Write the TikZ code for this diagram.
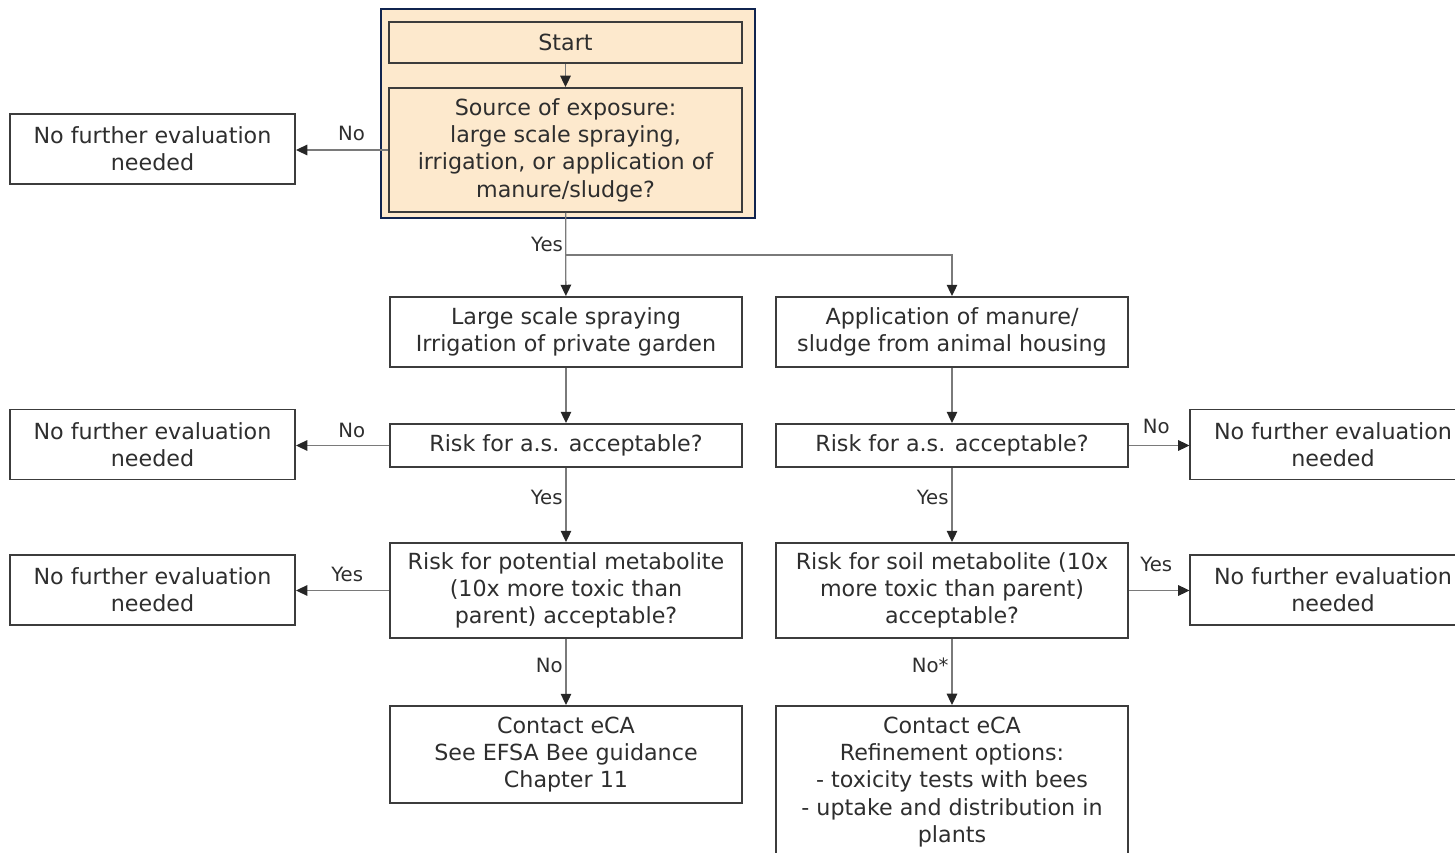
\documentclass[tikz,border=0pt]{standalone}
\usepackage{fontspec}
\setmainfont{DejaVu Sans}
\usetikzlibrary{positioning,arrows.meta}

\definecolor{peach}{HTML}{FDE9CD}
\definecolor{navy}{HTML}{10244F}
\definecolor{boxline}{HTML}{3C3C3C}
\definecolor{flowline}{HTML}{7A7A7A}
\definecolor{inktext}{HTML}{2E2E2E}

\tikzset{
	box/.style={draw=boxline, line width=1.4pt, align=center, inner sep=0pt,
		text=inktext, font=\fontsize{15.8}{19.4}\selectfont,
		minimum width=8.8cm},
	endbox/.style={box, minimum width=7.125cm, minimum height=1.75cm},
	startbox/.style={box, fill=peach},
	flow/.style={draw=flowline, line width=0.9pt,
		-{Triangle[length=8pt, width=7.5pt, color=black!85, fill=black!85]}},
	lbl/.style={text=inktext, font=\fontsize{14}{16}\selectfont, inner sep=2pt}
}

\begin{document}
\begin{tikzpicture}[x=0.025cm, y=-0.025cm]
	\useasboundingbox (0,0) rectangle (1455,853);
	\clip (0,0) rectangle (1455,853);

	% start block
	\draw[draw=navy, fill=peach, line width=1.5pt] (381,9) rectangle (755,218);
	\node[startbox, minimum height=1.025cm] (start) at (565.5,42.5) {Start};
	\node[startbox, minimum height=3.1cm] (source) at (565.5,150)
		{Source of exposure:\\ large scale spraying,\\ irrigation, or application of\\ manure/sludge?};
	\node[endbox] (nfeA) at (152.5,149) {No further evaluation\\ needed};

	% two routes
	\node[box, minimum height=1.75cm] (spray) at (566,332)
		{Large scale spraying\\ Irrigation of private garden};
	\node[box, minimum height=1.75cm] (manure) at (952,332)
		{Application of manure/\\ sludge from animal housing};
	\coordinate (split) at (566,255);

	% active substance
	\node[box, minimum height=1.075cm] (riskL) at (566,445.5) {Risk for a.s. acceptable?};
	\node[box, minimum height=1.075cm] (riskR) at (952,445.5) {Risk for a.s. acceptable?};
	\node[endbox] (nfeB) at (152.5,444.5) {No further evaluation\\ needed};
	\node[endbox] (nfeD) at (1333,444.5) {No further evaluation\\ needed};

	% metabolites
	\node[box, minimum height=2.375cm] (metL) at (566,590.5)
		{Risk for potential metabolite\\ (10x more toxic than\\ parent) acceptable?};
	\node[box, minimum height=2.375cm] (metR) at (952,590.5)
		{Risk for soil metabolite (10x\\ more toxic than parent)\\ acceptable?};
	\node[endbox] (nfeC) at (152.5,590) {No further evaluation\\ needed};
	\node[endbox] (nfeE) at (1333,590) {No further evaluation\\ needed};

	% contact eCA
	\node[box, minimum height=2.425cm] (contactL) at (566,754.5)
		{Contact eCA\\ See EFSA Bee guidance\\ Chapter 11};
	\node[box, minimum height=3.8cm] (contactR) at (952,782)
		{Contact eCA\\ Refinement options:\\ - toxicity tests with bees\\ - uptake and distribution in\\ plants};

	% connectors
	\draw[flow] (start) -- (source);
	\draw[flow] (source.west) -- node[lbl, above=4pt, pos=0.4] {No} (source.west -| nfeA.east);
	\draw[flow] (source) -- (spray);
	\draw[flow] (split) -| (manure);
	\node[lbl, anchor=south east] at (split) {Yes};

	\draw[flow] (spray) -- (riskL);
	\draw[flow] (manure) -- (riskR);
	\draw[flow] (riskL.west) -- node[lbl, above=3pt, pos=0.4] {No} (riskL.west -| nfeB.east);
	\draw[flow] (riskR.east) -- node[lbl, above=6pt, pos=0.45] {No} (riskR.east -| nfeD.west);
	\draw[flow] (riskL) -- node[lbl, left, pos=0.4] {Yes} (metL);
	\draw[flow] (riskR) -- node[lbl, left, pos=0.4] {Yes} (metR);

	\draw[flow] (metL.west) -- node[lbl, above=4pt, pos=0.45] {Yes} (metL.west -| nfeC.east);
	\draw[flow] (metR.east) -- node[lbl, above=11pt, pos=0.45] {Yes} (metR.east -| nfeE.west);
	\draw[flow] (metL) -- node[lbl, left, pos=0.4] {No} (contactL);
	\draw[flow] (metR) -- node[lbl, left, pos=0.4] {No*} (contactR);
\end{tikzpicture}
\end{document}
